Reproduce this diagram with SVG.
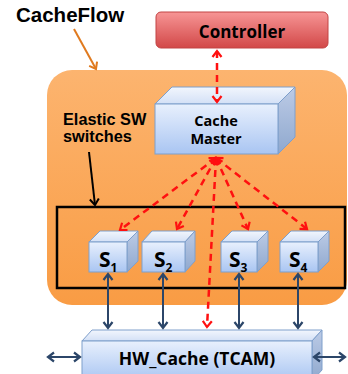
<svg xmlns="http://www.w3.org/2000/svg" width="348" height="374" viewBox="0 0 348 374">
<defs>
<linearGradient id="gOrange" x1="0" y1="0" x2="0" y2="1"><stop offset="0" stop-color="#FCB46F"/><stop offset="1" stop-color="#F99C44"/></linearGradient>
<linearGradient id="gRed" x1="0" y1="0" x2="0" y2="1"><stop offset="0" stop-color="#F79595"/><stop offset="1" stop-color="#D24848"/></linearGradient>
<linearGradient id="gFront" x1="0" y1="0" x2="0" y2="1"><stop offset="0" stop-color="#E8F0FD"/><stop offset="1" stop-color="#A9C5F2"/></linearGradient>
<linearGradient id="gTop" x1="0" y1="0" x2="0" y2="1"><stop offset="0" stop-color="#F2F6FD"/><stop offset="1" stop-color="#D3E0F6"/></linearGradient>
<linearGradient id="gSide" x1="0" y1="0" x2="0" y2="1"><stop offset="0" stop-color="#BCCBE6"/><stop offset="1" stop-color="#8FA8CE"/></linearGradient>
<marker id="mRed" markerUnits="userSpaceOnUse" markerWidth="12" markerHeight="12" refX="8" refY="6" orient="auto-start-reverse"><path d="M2,1.5 L8,6 L2,10.5" fill="none" stroke="#FF1010" stroke-width="2.2"/></marker>
<marker id="mBlue" markerUnits="userSpaceOnUse" markerWidth="12" markerHeight="12" refX="8" refY="6" orient="auto-start-reverse"><path d="M2,1.5 L8,6 L2,10.5" fill="none" stroke="#2C4669" stroke-width="2.2"/></marker>
<marker id="mBlack" markerUnits="userSpaceOnUse" markerWidth="12" markerHeight="12" refX="8" refY="6" orient="auto"><path d="M2,1.5 L8,6 L2,10.5" fill="none" stroke="#000" stroke-width="2"/></marker>
<marker id="mOrange" markerUnits="userSpaceOnUse" markerWidth="12" markerHeight="12" refX="8" refY="6" orient="auto"><path d="M2,1.5 L8,6 L2,10.5" fill="none" stroke="#E07A1F" stroke-width="2"/></marker>
</defs>
<style>
.lbl{font-family:"Liberation Sans",Arial,sans-serif;font-weight:bold;fill:#000}
.cal{font-family:"Open Sans","Liberation Sans",sans-serif;font-weight:bold;fill:#000}
.front{fill:url(#gFront);stroke:#7E9FCB;stroke-width:1}
.top{fill:url(#gTop);stroke:#7E9FCB;stroke-width:1}
.side{fill:url(#gSide);stroke:#7E9FCB;stroke-width:1}
.red{stroke:#FF1010;stroke-width:2.5;stroke-dasharray:7 5;fill:none;marker-start:url(#mRed);marker-end:url(#mRed)}
.blue{stroke:#2C4669;stroke-width:2;fill:none;marker-start:url(#mBlue);marker-end:url(#mBlue)}
</style>
<rect width="348" height="374" fill="#fff"/>
<g id="cacheflow-region">
<rect x="47" y="70" width="300" height="235" rx="25" fill="url(#gOrange)"/>
</g>
<g id="cacheflow-label">
<text class="lbl" x="16" y="22" font-size="20.5">CacheFlow</text>
</g>
<g id="elastic-label">
<text class="lbl" x="63" y="125" font-size="16.3">Elastic SW</text>
<text class="lbl" x="63" y="142" font-size="16.3">switches</text>
</g>
<g id="elastic-group">
<rect x="57" y="207" width="288" height="81" fill="none" stroke="#000" stroke-width="2.5"/>
</g>
<g id="controller">
<rect x="156" y="12" width="172" height="36" rx="5" fill="url(#gRed)" stroke="#C24444" stroke-width="1"/>
<text class="cal" x="242" y="38" font-size="17" text-anchor="middle">Controller</text>
</g>
<g id="cache-master">
<polygon class="top" points="155,104 172,87 295,87 278,104"/>
<polygon class="side" points="278,104 295,87 295,137 278,154"/>
<rect class="front" x="155" y="104" width="123" height="50"/>
<text class="cal" x="216" y="126" font-size="14.5" text-anchor="middle">Cache</text>
<text class="cal" x="216" y="144" font-size="14.5" text-anchor="middle">Master</text>
</g>
<g id="s1">
<polygon class="top" points="89,242 100,231 138,231 127,242"/>
<polygon class="side" points="127,242 138,231 138,261 127,272"/>
<rect class="front" x="89" y="242" width="38" height="30"/>
<text class="cal" x="99" y="267" font-size="21">S<tspan font-size="12" dy="5">1</tspan></text>
</g>
<g id="s2">
<polygon class="top" points="142,242 152,231 195,231 185,242"/>
<polygon class="side" points="185,242 195,231 195,261 185,272"/>
<rect class="front" x="142" y="242" width="43" height="30"/>
<text class="cal" x="154" y="267" font-size="21">S<tspan font-size="12" dy="5">2</tspan></text>
</g>
<g id="s3">
<polygon class="top" points="221,242 232,231 268,231 257,242"/>
<polygon class="side" points="257,242 268,231 268,261 257,272"/>
<rect class="front" x="221" y="242" width="36" height="30"/>
<text class="cal" x="229" y="267" font-size="21">S<tspan font-size="12" dy="5">3</tspan></text>
</g>
<g id="s4">
<polygon class="top" points="280,242 291,231 329,231 318,242"/>
<polygon class="side" points="318,242 329,231 329,261 318,272"/>
<rect class="front" x="280" y="242" width="38" height="30"/>
<text class="cal" x="289" y="267" font-size="21">S<tspan font-size="12" dy="5">4</tspan></text>
</g>
<g id="hw-cache">
<polygon class="top" points="82,341 92,330 322,330 312,341"/>
<polygon class="side" points="312,341 322,330 322,370 312,381"/>
<rect class="front" x="82" y="341" width="230" height="40"/>
<text class="cal" x="197" y="365" font-size="17.5" text-anchor="middle">HW_Cache (TCAM)</text>
</g>
<g id="connectors">
<line x1="74" y1="29" x2="96" y2="69" stroke="#E07A1F" stroke-width="2" marker-end="url(#mOrange)"/>
<line x1="89" y1="152" x2="95" y2="205" stroke="#000" stroke-width="2" marker-end="url(#mBlack)"/>
<line class="red" x1="217" y1="51" x2="217" y2="102"/>
<line class="red" x1="216" y1="158" x2="120" y2="230"/>
<line class="red" x1="216" y1="158" x2="177" y2="229"/>
<line class="red" x1="216" y1="158" x2="207" y2="327"/>
<line class="red" x1="216" y1="158" x2="248" y2="229"/>
<line class="red" x1="216" y1="158" x2="307" y2="229"/>
<line class="blue" x1="108" y1="274" x2="108" y2="328"/>
<line class="blue" x1="163" y1="274" x2="163" y2="328"/>
<line class="blue" x1="239" y1="274" x2="239" y2="328"/>
<line class="blue" x1="298" y1="274" x2="298" y2="328"/>
<line class="blue" x1="48" y1="357" x2="80" y2="357"/>
<line class="blue" x1="314" y1="357" x2="345" y2="357"/>
</g>
</svg>
